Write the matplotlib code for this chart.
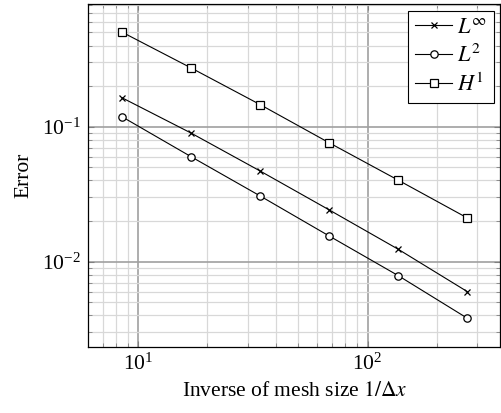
import matplotlib.pyplot as plt
from matplotlib.ticker import LogLocator, NullFormatter

plt.rcParams["font.family"] = ["Liberation Serif", "DejaVu Serif"]
plt.rcParams["mathtext.fontset"] = "stix"

# inverse mesh size and measured errors
inv_dx = [8.5, 17, 34, 68, 136, 272]
err_linf = [0.164, 0.0898, 0.047, 0.0242, 0.01236, 0.0060]
err_l2 = [0.1186, 0.0600, 0.0307, 0.0155, 0.00788, 0.00381]
err_h1 = [0.503, 0.273, 0.146, 0.0761, 0.0402, 0.0211]

labels = [r"$L^{\infty}$", r"$L^{2}$", r"$H^{1}$"]

fig = plt.figure(figsize=(5.01, 4.13), dpi=100)
ax = fig.add_axes([0.1756, 0.1605, 0.8234, 0.8295])

ax.plot(inv_dx, err_linf, color="black", linewidth=0.8, marker="x",
        markersize=4.5, markeredgewidth=0.9, label=labels[0])
ax.plot(inv_dx, err_l2, color="black", linewidth=0.8, marker="o",
        markersize=5.3, markerfacecolor="white", markeredgewidth=0.9, label=labels[1])
ax.plot(inv_dx, err_h1, color="black", linewidth=0.8, marker="s",
        markersize=5.8, markerfacecolor="white", markeredgewidth=0.9, label=labels[2])

ax.set_xscale("log")
ax.set_yscale("log")
ax.set_xlim(6.04, 380)
ax.set_ylim(0.00234, 0.811)

ax.xaxis.set_minor_locator(LogLocator(base=10, subs=range(2, 10)))
ax.yaxis.set_minor_locator(LogLocator(base=10, subs=range(2, 10)))
ax.xaxis.set_minor_formatter(NullFormatter())
ax.yaxis.set_minor_formatter(NullFormatter())

ax.grid(True, which="major", color="#a0a0a0", linewidth=1.2)
ax.grid(True, which="minor", color="#d8d8d8", linewidth=0.9)
ax.set_axisbelow(True)

ax.tick_params(which="both", direction="in", top=True, right=True,
               color="#808080", labelsize=15.5)
ax.tick_params(which="major", length=4.5, width=0.8, pad=5)
ax.tick_params(which="minor", length=3, width=0.6)
for sp in ax.spines.values():
    sp.set_linewidth(0.9)

ax.set_xlabel(r"Inverse of mesh size $1/\mathit{\Delta x}$", fontsize=15.5, labelpad=5)
ax.set_ylabel("Error", fontsize=15.5, labelpad=6)

leg = ax.legend(loc="upper right", fontsize=16, frameon=True, fancybox=False,
                edgecolor="black", framealpha=1, borderaxespad=0.3,
                handlelength=1.7, handletextpad=0.2, labelspacing=0.3,
                borderpad=0.3)
leg.get_frame().set_linewidth(0.8)

fig.savefig("out.png", dpi=100)
